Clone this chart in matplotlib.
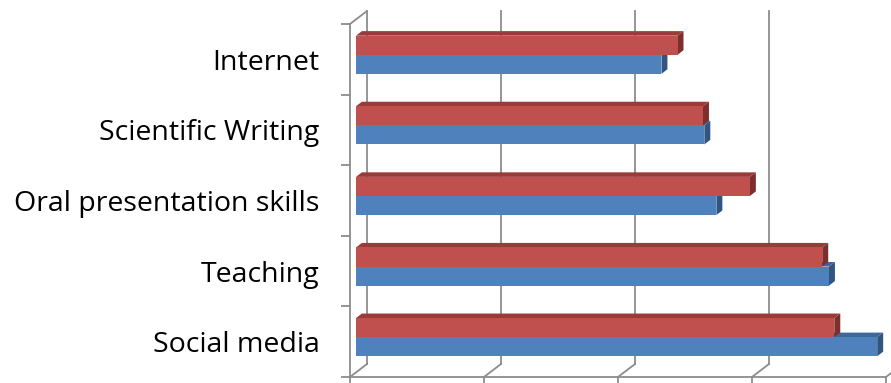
import matplotlib
matplotlib.use("Agg")
import matplotlib.pyplot as plt
from matplotlib.patches import Polygon

# Data
categories = ["Internet", "Scientific Writing", "Oral presentation skills", "Teaching", "Social media"]
values_blue = [2.28, 2.60, 2.69, 3.53, 3.89]
values_red = [2.40, 2.59, 2.94, 3.48, 3.57]

# Colours
BLUE_FRONT, BLUE_TOP, BLUE_SIDE = "#4F81BD", "#3D6899", "#2F5580"
RED_FRONT, RED_TOP, RED_SIDE = "#C0504D", "#9A3B39", "#7E2E2C"
AXIS_GREY = "#8C8C8C"

plt.rcParams["font.family"] = ["Open Sans", "DejaVu Sans"]

fig = plt.figure(figsize=(8.91, 3.83), dpi=100)
ax = fig.add_axes([350 / 891, 6 / 383, 536 / 891, 353 / 383])
ax.set_xlim(0, 4)
ax.set_ylim(5, 0)

# oblique depth vector (data units) and depth slice occupied by the bars
DX, DY = 17 / 134, 13 / 70.6
D_FRONT, D_BACK = 0.35, 0.70
BAR_H = 0.27


def proj(x, y, d):
    return (x + d * DX, y - d * DY)


# back wall gridlines and floor edges
for k in range(5):
    ax.plot([k + DX, k + DX], [-DY, 5 - DY], color=AXIS_GREY, lw=1.3, clip_on=False, zorder=1)
    ax.plot([k, k + DX], [5, 5 - DY], color=AXIS_GREY, lw=1.3, clip_on=False, zorder=1)
ax.plot([0, DX], [0, -DY], color=AXIS_GREY, lw=1.3, clip_on=False, zorder=1)


def draw_bar(val, yc, front, top, side, z):
    y0, y1 = yc - BAR_H / 2, yc + BAR_H / 2  # y0 is the upper edge (inverted axis)
    # top face
    pts = [proj(0, y0, D_FRONT), proj(val, y0, D_FRONT), proj(val, y0, D_BACK), proj(0, y0, D_BACK)]
    ax.add_patch(Polygon(pts, closed=True, facecolor=top, edgecolor="none", zorder=z, clip_on=False))
    # side face
    pts = [proj(val, y0, D_FRONT), proj(val, y1, D_FRONT), proj(val, y1, D_BACK), proj(val, y0, D_BACK)]
    ax.add_patch(Polygon(pts, closed=True, facecolor=side, edgecolor="none", zorder=z, clip_on=False))
    # front face
    fx, fy = proj(0, yc, D_FRONT)
    ax.barh(fy, val, height=BAR_H, left=fx, color=front, edgecolor="none", zorder=z + 0.5, clip_on=False)


for i in range(len(categories)):
    c = i + 0.5
    draw_bar(values_blue[i], c + BAR_H / 2, BLUE_FRONT, BLUE_TOP, BLUE_SIDE, 3)
    draw_bar(values_red[i], c - BAR_H / 2, RED_FRONT, RED_TOP, RED_SIDE, 4)

# front axes
for s in ["top", "right"]:
    ax.spines[s].set_visible(False)
for s in ["left", "bottom"]:
    ax.spines[s].set_color(AXIS_GREY)
    ax.spines[s].set_linewidth(1.3)
    ax.spines[s].set_zorder(2)

ax.set_xticks(range(5))
ax.set_xticklabels([])
ax.tick_params(axis="x", direction="out", length=5, width=1.3, color=AXIS_GREY)
ax.set_yticks(range(6))
ax.set_yticklabels([])
ax.tick_params(axis="y", which="major", direction="out", length=6.5, width=1.3, color=AXIS_GREY)
ax.set_yticks([i + 0.5 for i in range(len(categories))], categories, minor=True)
ax.tick_params(axis="y", which="minor", length=0, pad=22, labelsize=20.5, labelcolor="#000000")
for lbl in ax.get_yticklabels(minor=True):
    lbl.set_verticalalignment("center_baseline")

fig.savefig("out.png", dpi=100)
